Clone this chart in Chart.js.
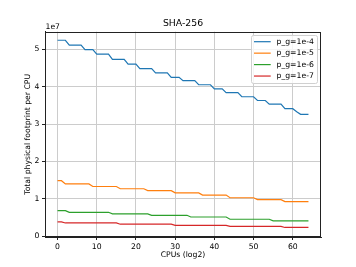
<!DOCTYPE html>
<html>
<head>
<meta charset="utf-8">
<script src="https://cdn.jsdelivr.net/npm/chart.js@4"></script>
<style>
  html, body { margin: 0; padding: 0; background: #fff; }
  canvas { display: block; }
</style>
</head>
<body>
<canvas id="footprintChart" width="356" height="267"></canvas>
<script>
// values are in units of 1e7 (matplotlib offset label)
const cpus = [0,1,2,3,4,5,6,7,8,9,10,11,12,13,14,15,16,17,18,19,20,21,22,23,24,25,26,27,28,29,30,31,32,
  33,34,35,36,37,38,39,40,41,42,43,44,45,46,47,48,49,50,51,52,53,54,55,56,57,58,59,60,61,62,63,64];

const pg1e4 = [5.24,5.24,5.24, 5.11,5.11,5.11,5.11, 4.99,4.99,4.99, 4.87,4.87,4.87,4.87,
  4.73,4.73,4.73,4.73, 4.60,4.60,4.60, 4.48,4.48,4.48,4.48, 4.37,4.37,4.37,4.37,
  4.25,4.25,4.25, 4.16,4.16,4.16,4.16, 4.05,4.05,4.05,4.05, 3.94,3.94,3.94,
  3.84,3.84,3.84,3.84, 3.73,3.73,3.73,3.73, 3.63,3.63,3.63, 3.53,3.53,3.53,3.53,
  3.41,3.41,3.41, 3.33, 3.26,3.26,3.26];
const pg1e5 = [1.485,1.485, 1.40,1.40,1.40,1.40,1.40,1.40,1.40, 1.33,1.33,1.33,1.33,1.33,1.33,1.33,
  1.27,1.27,1.27,1.27,1.27,1.27,1.27, 1.22,1.22,1.22,1.22,1.22,1.22,1.22,
  1.16,1.16,1.16,1.16,1.16,1.16,1.16, 1.10,1.10,1.10,1.10,1.10,1.10,1.10,
  1.03,1.03,1.03,1.03,1.03,1.03,1.03, 0.98,0.98,0.98,0.98,0.98,0.98,0.98,
  0.925,0.925,0.925,0.925,0.925,0.925,0.925];
const pg1e6 = [0.685,0.685,0.685, 0.64,0.64,0.64,0.64,0.64,0.64,0.64,0.64,0.64,0.64,0.64,
  0.597,0.597,0.597,0.597,0.597,0.597,0.597,0.597,0.597,0.597,
  0.56,0.56,0.56,0.56,0.56,0.56,0.56,0.56,0.56,0.56,
  0.515,0.515,0.515,0.515,0.515,0.515,0.515,0.515,0.515,0.515,
  0.455,0.455,0.455,0.455,0.455,0.455,0.455,0.455,0.455,0.455,0.455,
  0.41,0.41,0.41,0.41,0.41,0.41,0.41,0.41,0.41,0.41];
const pg1e7 = [0.385,0.385,
  0.355,0.355,0.355,0.355,0.355,0.355,0.355,0.355,0.355,0.355,0.355,0.355,0.355,0.355,
  0.322,0.322,0.322,0.322,0.322,0.322,0.322,0.322,0.322,0.322,0.322,0.322,0.322,0.322,
  0.29,0.29,0.29,0.29,0.29,0.29,0.29,0.29,0.29,0.29,0.29,0.29,0.29,0.29,
  0.262,0.262,0.262,0.262,0.262,0.262,0.262,0.262,0.262,0.262,0.262,0.262,0.262,0.262,
  0.235,0.235,0.235,0.235,0.235,0.235,0.235];

const seriesLabels = ['p_g=1e-4', 'p_g=1e-5', 'p_g=1e-6', 'p_g=1e-7'];
const seriesColors = ['#1f77b4', '#ff7f0e', '#2ca02c', '#d62728'];
const xTicks = [0, 10, 20, 30, 40, 50, 60];
const yTicks = [0, 1, 2, 3, 4, 5];

const FONT = 'DejaVu Sans';
const TXT = '#000';

const toPoints = vals => vals.map((v, i) => ({ x: cpus[i], y: v }));

// top/right spines, 1e7 offset label, legend box inside the axes
const extras = {
  id: 'extras',
  afterDraw(chart) {
    const { ctx, chartArea: a } = chart;
    ctx.save();
    ctx.strokeStyle = '#222';
    ctx.lineWidth = 1;
    ctx.strokeRect(Math.round(a.left) + 0.5, Math.round(a.top) + 0.5,
      Math.round(a.right - a.left) - 1, Math.round(a.bottom - a.top) - 1);

    ctx.fillStyle = TXT;
    ctx.font = '7.7px "' + FONT + '"';
    ctx.textAlign = 'left';
    ctx.textBaseline = 'middle';
    ctx.fillText('1e7', a.left + 0.5, a.top - 5);

    // legend
    const bx = 251, by = 35, bw = 66, bh = 48;
    ctx.fillStyle = 'rgba(255,255,255,0.8)';
    ctx.strokeStyle = '#d0d0d0';
    ctx.beginPath();
    ctx.roundRect(bx + 0.5, by + 0.5, bw, bh, 2);
    ctx.fill();
    ctx.stroke();
    chart.data.datasets.forEach((ds, i) => {
      const y = 41.7 + i * 11.45;
      ctx.strokeStyle = ds.borderColor;
      ctx.lineWidth = 1.2;
      ctx.beginPath();
      ctx.moveTo(254, y);
      ctx.lineTo(270.7, y);
      ctx.stroke();
      ctx.fillStyle = TXT;
      ctx.fillText(ds.label, 276.5, y);
    });
    ctx.restore();
  }
};

new Chart(document.getElementById('footprintChart').getContext('2d'), {
  type: 'line',
  data: {
    datasets: [pg1e4, pg1e5, pg1e6, pg1e7].map((vals, i) => ({
      label: seriesLabels[i],
      data: toPoints(vals),
      borderColor: seriesColors[i],
      backgroundColor: seriesColors[i],
      borderWidth: 1.2,
      pointRadius: 0,
      tension: 0,
      fill: false
    }))
  },
  options: {
    responsive: false,
    animation: false,
    layout: { padding: { left: 0, right: 35, top: 0, bottom: 0 } },
    plugins: {
      legend: { display: false },
      tooltip: { enabled: false },
      title: {
        display: true,
        text: 'SHA-256',
        fullSize: false,
        color: TXT,
        font: { family: FONT, size: 9.3, weight: 'normal' },
        padding: { top: 18.4, bottom: 2.1 }
      }
    },
    scales: {
      x: {
        type: 'linear',
        min: -3.2,
        max: 67.2,
        afterBuildTicks: s => { s.ticks = xTicks.map(v => ({ value: v })); },
        afterFit: s => { s.height = 30; },
        ticks: { color: TXT, font: { family: FONT, size: 7.7 }, padding: 2, maxRotation: 0 },
        grid: { color: '#cccccc', lineWidth: 1, tickColor: '#222', tickLength: 3 },
        border: { display: true, color: '#222', width: 1 },
        title: {
          display: true,
          text: 'CPUs (log2)',
          color: TXT,
          font: { family: FONT, size: 7.7 },
          padding: { top: 0, bottom: 7.4 }
        }
      },
      y: {
        min: -0.02,
        max: 5.47,
        afterBuildTicks: s => { s.ticks = yTicks.map(v => ({ value: v })); },
        afterFit: s => { s.width = 45; },
        ticks: { color: TXT, font: { family: FONT, size: 7.7 }, padding: 2.5 },
        grid: { color: '#cccccc', lineWidth: 1, tickColor: '#222', tickLength: 3 },
        border: { display: true, color: '#222', width: 1 },
        title: {
          display: true,
          text: 'Total physical footprint per CPU',
          color: TXT,
          font: { family: FONT, size: 7.7 },
          padding: { top: 23.4, bottom: 0 }
        }
      }
    }
  },
  plugins: [extras]
});
</script>
</body>
</html>
